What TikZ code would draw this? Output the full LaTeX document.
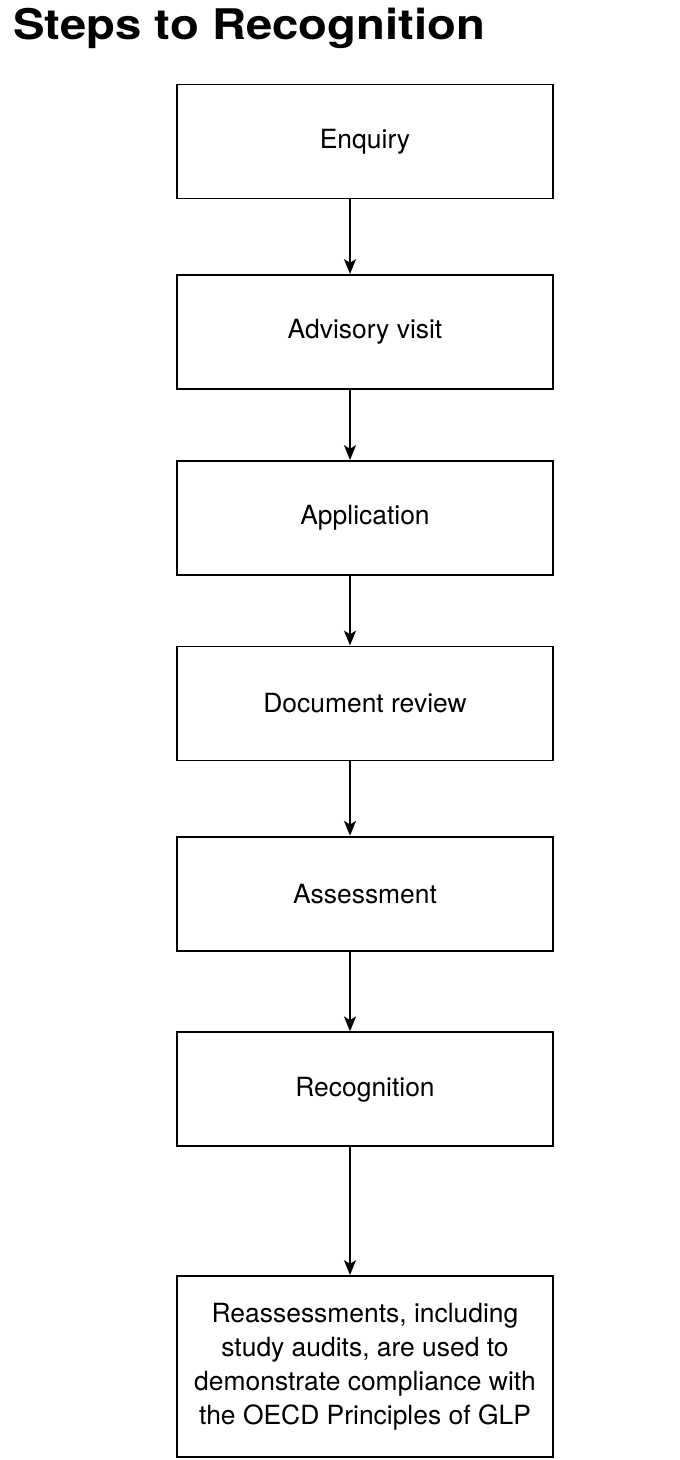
\documentclass[tikz,border=0pt]{standalone}
\usepackage{fontspec}
\setmainfont{TeX Gyre Heros}
\usetikzlibrary{arrows.meta}

\begin{document}
\begin{tikzpicture}[x=0.7113pt, y=-0.7113pt]

    % Page size of the diagram
    \useasboundingbox (0,0) rectangle (679,1460);

    % Define the box style and the arrow style
    \tikzset{
        stepbox/.style={draw, line width=1.4pt, minimum width=267.45pt, minimum height=81.1pt,
            inner sep=0pt, align=center, font=\fontsize{18.8}{24.2}\selectfont},
        flowarrow/.style={line width=1.4pt, -{Stealth[length=10.5pt, width=8.5pt, inset=2.5pt]}}
    }

    % Title
    \node[anchor=base west, inner sep=0pt, font=\fontsize{30}{36}\selectfont\bfseries] (title) at (13,40)
        {\scalebox{1.12}[1]{Steps to Recognition}};

    % Draw the steps
    \node[stepbox] (enquiry) at (365,141.5) {Enquiry};
    \node[stepbox] (advisory) at (365,332) {Advisory visit};
    \node[stepbox] (application) at (365,518) {Application};
    \node[stepbox] (review) at (365,703.5) {Document review};
    \node[stepbox] (assessment) at (365,893.7) {Assessment};
    \node[stepbox] (recognition) at (365,1089.3) {Recognition};
    \node[stepbox, minimum height=128.75pt] (reassessment) at (365,1366.5)
        {Reassessments, including\\study audits, are used to\\demonstrate compliance with\\the OECD Principles of GLP};

    % Connect the steps
    \foreach \a/\b in {enquiry/advisory, advisory/application, application/review,
                       review/assessment, assessment/recognition, recognition/reassessment} {
        \draw[flowarrow] ([xshift=-10.67pt]\a.south) -- ([xshift=-10.67pt]\b.north);
    }

\end{tikzpicture}
\end{document}
